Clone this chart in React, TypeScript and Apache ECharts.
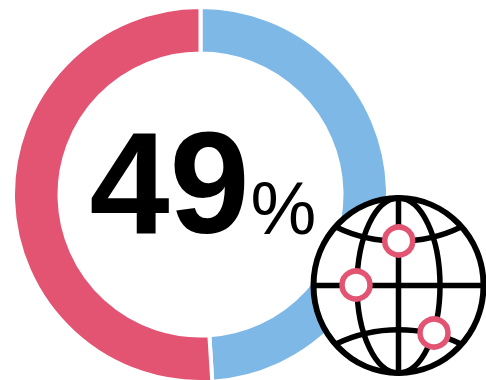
import React, { useEffect, useRef } from "react";
import * as echarts from "echarts";

const shareLabels = ["Yes", "No"];
const shareValues = [49, 51];
const shareColors = ["#7DB8E6", "#E35473"];
const headline = "49";
const unit = "%";

const INK = "#000000";
const LINE = { stroke: INK, lineWidth: 5.5, fill: "none" };

// Globe icon geometry
const GX = 398.5;
const GY = 285.5;
const GRX = 85;
const GRY = 87.5;
const pins = [
  [398.7, 241],
  [356, 285],
  [434, 333],
];

function globeIcon() {
  const parts: any[] = [
    { type: "ellipse", shape: { cx: GX, cy: GY, rx: GRX, ry: GRY }, style: { stroke: INK, lineWidth: 6, fill: "#ffffff" } },
    { type: "ellipse", shape: { cx: GX, cy: GY, rx: 41.5, ry: GRY }, style: LINE },
    { type: "line", shape: { x1: GX, y1: GY - GRY, x2: GX, y2: GY + GRY }, style: LINE },
    { type: "line", shape: { x1: GX - GRX, y1: GY, x2: GX + GRX, y2: GY }, style: LINE },
    {
      type: "bezierCurve",
      shape: { x1: 336, y1: 227, cpx1: 375, cpy1: 246, cpx2: 422, cpy2: 246, x2: 461, y2: 227 },
      style: LINE,
    },
    {
      type: "bezierCurve",
      shape: { x1: 336, y1: 344, cpx1: 375, cpy1: 325, cpx2: 422, cpy2: 325, x2: 461, y2: 344 },
      style: LINE,
    },
  ];
  pins.forEach(([cx, cy]) => {
    parts.push({
      type: "circle",
      shape: { cx, cy, r: 14 },
      style: { stroke: "#E35473", lineWidth: 5.5, fill: "#ffffff" },
    });
  });
  return parts.map((p, i) => ({ ...p, z: 10 + i }));
}

export default function App() {
  const ref = useRef<HTMLDivElement>(null);

  useEffect(() => {
    const chart = echarts.init(ref.current!, null, { renderer: "svg" });
    chart.setOption({
      animation: false,
      backgroundColor: "#ffffff",
      series: [
        {
          type: "pie",
          center: [200.5, 194.5],
          radius: [141, 187.5],
          startAngle: 90,
          clockwise: true,
          label: { show: false },
          labelLine: { show: false },
          silent: true,
          itemStyle: { borderColor: "#ffffff", borderWidth: 4 },
          data: shareLabels.map((name, i) => ({
            name,
            value: shareValues[i],
            itemStyle: { color: shareColors[i] },
          })),
        },
      ],
      graphic: [
        {
          type: "text",
          x: 169.5,
          y: 183,
          z: 5,
          style: {
            text: headline,
            fill: INK,
            font: 'bold 144px "Liberation Sans", Arial, sans-serif',
            textAlign: "center",
            textVerticalAlign: "middle",
          },
        },
        {
          type: "text",
          x: 283.5,
          y: 208,
          z: 5,
          style: {
            text: unit,
            fill: INK,
            font: '74px "Liberation Sans", Arial, sans-serif',
            textAlign: "center",
            textVerticalAlign: "middle",
          },
        },
        ...globeIcon(),
      ],
    });
    return () => chart.dispose();
  }, []);

  return <div ref={ref} style={{ position: "absolute", left: 0, top: 0, width: 486, height: 380 }} />;
}
